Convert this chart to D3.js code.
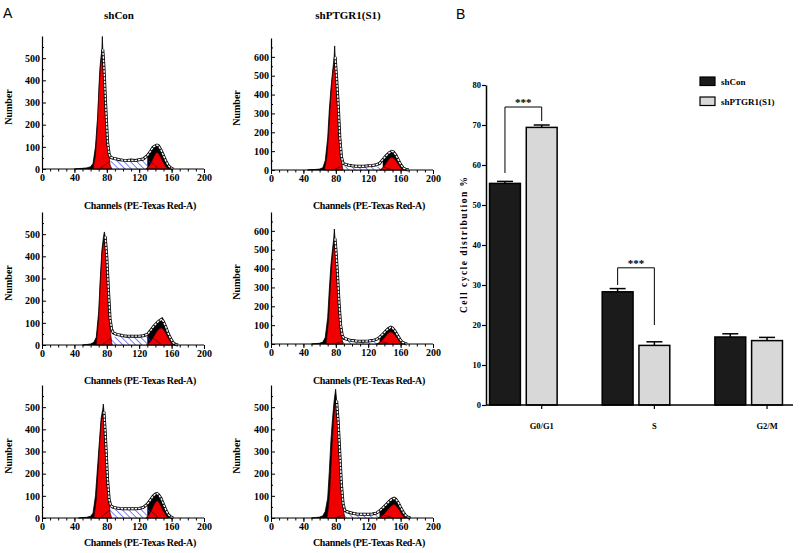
<!DOCTYPE html>
<html><head><meta charset="utf-8">
<script src="https://cdn.jsdelivr.net/npm/d3@7"></script>
<style>
body{margin:0;background:#fff;}
svg{display:block;}
text{font-family:"Liberation Serif","Times New Roman",serif;font-weight:bold;fill:#000;}
</style></head>
<body>
<svg id="c" width="800" height="553"></svg>
<script>
// ---------------- DATA : panel A histograms  [channel, count] ----------------
const hist1Data=[[40,0],[45,2],[50,3],[55,5],[60,10],[63,25],[66,100],[69,250],[71,420],[72,475],[73,510],[74,540],[74.5,598],[75,540],[76,490],[77,420],[79,260],[81,120],[83,65],[85,52],[88,48],[92,45],[96,42],[100,40],[105,38],[110,40],[115,38],[120,42],[125,45],[130,60],[134,80],[137,98],[140,105],[142,108],[144,104],[147,85],[150,60],[153,35],[156,15],[159,5],[162,0]];
const hist1G1=[[63,0],[66,60],[68,170],[70,330],[72,460],[74,508],[74.5,512],[76,470],[78,340],[80,190],[82,80],[84,20],[86,0]];
const hist1G2=[[128,0],[132,12],[135,30],[138,55],[141,73],[142,75],[144,70],[147,50],[150,28],[153,10],[157,0]];
const hist1S=[[71,0],[84,36],[90,38],[110,37],[128,38],[134,35],[144,0]];

const hist2Data=[[45,0],[50,2],[55,3],[60,5],[64,12],[67,50],[70,170],[72,320],[74,430],[76,520],[77,560],[78,600],[78.6,658],[79.2,600],[80,550],[81,490],[83,345],[85,170],[87,70],[89,35],[92,30],[96,25],[100,22],[105,20],[110,20],[115,20],[120,22],[125,24],[130,28],[134,35],[138,55],[142,75],[146,92],[149,99],[151,96],[154,80],[157,55],[160,30],[163,12],[166,4],[170,0]];
const hist2G1=[[66,0],[69,70],[71,180],[73,330],[75,460],[77,540],[78.6,560],[80,530],[82,420],[84,250],[86,100],[88,20],[89,0]];
const hist2G2=[[134,0],[138,12],[141,28],[144,48],[147,63],[149.5,67],[152,62],[155,45],[158,25],[161,8],[164,0]];
const hist2S=[[76,0],[88,20],[95,20],[110,18],[125,18],[138,17],[150,0]];

const hist3Data=[[50,0],[55,2],[60,5],[64,12],[67,35],[70,150],[72,300],[74,430],[76,490],[77,510],[78,490],[80,400],[82,250],[84,120],[86,70],[88,55],[92,48],[96,45],[100,42],[105,40],[110,40],[115,40],[120,40],[125,42],[130,48],[134,65],[138,85],[142,100],[145,110],[148,117],[150,105],[153,80],[156,50],[159,28],[162,10],[165,2],[168,0]];
const hist3G1=[[67,0],[70,120],[72,280],[74,410],[76,465],[77,470],[78,455],[80,360],[82,210],[84,80],[86,10],[87,0]];
const hist3G2=[[129,0],[134,15],[138,38],[142,62],[145,74],[147.5,77],[150,70],[153,52],[156,30],[159,12],[162,0]];
const hist3S=[[74,0],[87,36],[92,38],[110,37],[128,38],[136,35],[148,0]];

const hist4Data=[[50,0],[55,2],[60,4],[64,10],[67,35],[70,140],[72,290],[74,420],[76,505],[77.5,560],[78.2,610],[79,560],[80,510],[82,380],[84,220],[86,100],[88,45],[90,30],[92,28],[96,22],[100,18],[105,16],[110,15],[115,15],[120,16],[125,18],[130,24],[134,35],[138,52],[142,70],[145,82],[148,89],[150,85],[153,70],[156,48],[159,26],[162,10],[165,3],[168,0]];
const hist4G1=[[68,0],[71,120],[73,280],[75,420],[77,510],[78.2,527],[79.5,505],[81,420],[83,280],[85,140],[87,40],[89,0]];
const hist4G2=[[130,0],[135,10],[139,28],[143,50],[146,62],[148,65],[151,58],[154,42],[157,24],[160,8],[163,0]];
const hist4S=[[76,0],[90,16],[100,15],[120,14],[135,14],[148,0]];

const hist5Data=[[45,0],[50,2],[55,3],[60,8],[63,22],[66,100],[69,250],[71,350],[73,450],[75,490],[75.7,514],[76.5,480],[78,390],[79,320],[81,170],[83,80],[85,55],[88,48],[92,45],[96,43],[100,42],[105,42],[110,42],[115,42],[120,43],[125,48],[130,62],[134,82],[137,98],[140,108],[142,111],[144,105],[147,88],[150,62],[153,35],[156,15],[159,5],[162,0]];
const hist5G1=[[64,0],[67,80],[69,200],[71,330],[73,430],[75,464],[76,460],[78,370],[80,220],[82,100],[84,25],[86,0]];
const hist5G2=[[128,0],[132,14],[135,34],[138,58],[141,76],[142,78],[144,73],[147,52],[150,30],[153,12],[156,0]];
const hist5S=[[72,0],[84,38],[88,40],[110,40],[127,40],[133,37],[144,0]];

const hist6Data=[[50,0],[55,2],[60,4],[64,10],[67,30],[70,90],[72,210],[74,350],[76,450],[78,530],[79.8,581],[81,530],[83,430],[85,290],[87,150],[89,65],[91,35],[94,28],[98,24],[102,20],[106,18],[110,17],[115,17],[120,17],[125,18],[130,22],[134,32],[138,45],[142,60],[146,75],[149,84],[152,89],[154,85],[157,70],[160,48],[163,28],[166,12],[169,4],[172,0]];
const hist6G1=[[69,0],[71,50],[73,150],[75,300],[77,430],[79,510],[80,524],[81.5,500],[83,420],[85,290],[87,150],[89,50],[91,0]];
const hist6G2=[[132,0],[137,10],[141,24],[145,42],[149,56],[151.5,62],[154,58],[157,44],[160,26],[163,10],[166,0]];
const hist6S=[[78,0],[92,17],[100,16],[120,15],[138,14],[152,0]];

const histTitles=["shCon","shPTGR1(S1)"];
const xLabel="Channels (PE-Texas Red-A)";
const yLabel="Number";
const xMajorTicks=[0,40,80,120,160,200];
const xMinorTicks=[0,10,20,30,40,50,60,70,80,90,100,110,120,130,140,150,160,170,180,190,200];
const yMajorTicks500=[0,100,200,300,400,500];
const yMajorTicks600=[0,100,200,300,400,500,600];
const yMinorTicks=[50,150,250,350,450,550,650];

// ---------------- DATA : panel B bar chart ----------------
const phases=["G0/G1","S","G2/M"];
const groups=["shCon","shPTGR1(S1)"];
const shConMean=[55.4,28.3,17.0];
const shConErr=[0.5,0.8,0.8];
const shPTGRMean=[69.4,14.9,16.1];
const shPTGRErr=[0.6,0.9,0.8];
const barTicks=[0,10,20,30,40,50,60,70,80];
const barYLabel="Cell cycle distribution %";
const sigPhases=["G0/G1","S"];
const sigLeftBottom=[58,30];
const sigTop=[74.5,34.3];
const sigRightBottom=[71,20];
const sigText="***";

// ---------------- DRAW ----------------
const svg=d3.select("#c");
const defs=svg.append("defs");
const pat=defs.append("pattern").attr("id","hatch").attr("patternUnits","userSpaceOnUse")
  .attr("width",4.5).attr("height",4.5).attr("patternTransform","rotate(-45)");
pat.append("line").attr("x1",0).attr("y1",0).attr("x2",0).attr("y2",4.5)
  .attr("stroke","#3030ff").attr("stroke-width",1.2);

svg.append("text").text("A").attr("x",3).attr("y",18)
  .style("font-family","Liberation Sans, Arial, sans-serif").style("font-weight","normal").style("font-size","14px");
svg.append("text").text("B").attr("x",456).attr("y",19)
  .style("font-family","Liberation Sans, Arial, sans-serif").style("font-weight","normal").style("font-size","14px");

const panels=[
 {d:hist1Data,g1:hist1G1,g2:hist1G2,s:hist1S,x0:42,base:169,top:36,yMax:600,ticks:yMajorTicks500,lab:209,col:0},
 {d:hist2Data,g1:hist2G1,g2:hist2G2,s:hist2S,x0:271,base:170,top:38,yMax:700,ticks:yMajorTicks600,lab:209,col:1},
 {d:hist3Data,g1:hist3G1,g2:hist3G2,s:hist3S,x0:42,base:345,top:212,yMax:600,ticks:yMajorTicks500,lab:384,col:0},
 {d:hist4Data,g1:hist4G1,g2:hist4G2,s:hist4S,x0:271,base:344,top:212,yMax:700,ticks:yMajorTicks600,lab:384,col:1},
 {d:hist5Data,g1:hist5G1,g2:hist5G2,s:hist5S,x0:42,base:518,top:385,yMax:600,ticks:yMajorTicks500,lab:546,col:0},
 {d:hist6Data,g1:hist6G1,g2:hist6G2,s:hist6S,x0:271,base:518,top:385,yMax:600,ticks:yMajorTicks500,lab:546,col:1}
];

panels.forEach((p,i)=>{
  const g=svg.append("g");
  const x=d3.scaleLinear().domain([0,200]).range([p.x0,p.x0+162]);
  const y=d3.scaleLinear().domain([0,p.yMax]).range([p.base,p.top]);
  const area=d3.area().x(d=>x(d[0])).y0(y(0)).y1(d=>y(d[1]));
  const line=d3.line().x(d=>x(d[0])).y(d=>y(d[1]));
  const peakIdx=p.d.reduce((m,d,k)=>d[1]>p.d[m][1]?k:m,0);
  const fit=p.d.slice(peakIdx+1);
  const g1End=p.g1[p.g1.length-1][0], g2Start=p.g2[0][0];
  const gap=p.d.filter(d=>d[0]>=g1End-3&&d[0]<=g2Start+4);
  // data histogram
  g.append("path").attr("d",area(p.d)).attr("fill","#000").attr("stroke","#000").attr("stroke-width",0.8);
  // white gap under fit curve between the peaks
  g.append("path").attr("d",area(gap)).attr("fill","#fff");
  // S phase
  g.append("path").attr("d",area(p.s)).attr("fill","url(#hatch)");
  // red peaks
  const cp=defs.append("clipPath").attr("id","red"+i);
  cp.append("path").attr("d",area(p.g1));
  cp.append("path").attr("d",area(p.g2));
  [p.g1,p.g2].forEach(pk=>{
    g.append("path").attr("d",area(pk)).attr("fill","#f00000").attr("stroke","#300").attr("stroke-width",0.7);
  });
  g.append("path").attr("d",line(p.s)).attr("fill","none").attr("stroke","#6a0000")
    .attr("stroke-width",0.9).attr("clip-path","url(#red"+i+")");
  // fit line (white with black edge + dots)
  g.append("path").attr("d",line(fit)).attr("fill","none").attr("stroke","#000").attr("stroke-width",3);
  g.append("path").attr("d",line(fit)).attr("fill","none").attr("stroke","#fff").attr("stroke-width",1.4)
    .attr("stroke-dasharray","2.5,1");
  // axes
  const xa=g.append("g").attr("transform",`translate(0,${p.base})`)
    .call(d3.axisBottom(x).tickValues(xMajorTicks).tickSize(4).tickPadding(1).tickFormat(d3.format("d")));
  g.append("g").attr("transform",`translate(0,${p.base})`)
    .call(d3.axisBottom(x).tickValues(xMinorTicks).tickSize(2.5).tickFormat("")).select(".domain").remove();
  g.append("g").attr("transform",`translate(${p.x0},0)`)
    .call(d3.axisLeft(y).tickValues(p.ticks).tickSizeInner(-4).tickSizeOuter(0).tickPadding(2).tickFormat(d3.format("d")));
  g.append("g").attr("transform",`translate(${p.x0},0)`)
    .call(d3.axisLeft(y).tickValues(yMinorTicks.filter(v=>v<p.yMax)).tickSizeInner(-2).tickSizeOuter(0).tickFormat("")).select(".domain").remove();
  g.selectAll(".tick text").style("font-family","Liberation Serif, serif").style("font-weight","bold").style("font-size","10px");
  g.selectAll(".domain").attr("stroke","#000").attr("stroke-width",1.2);
  xa.select(".domain").attr("d",`M${x(0)},0H${x(200)}`);
  // labels
  g.append("text").text(xLabel).attr("x",p.x0+98).attr("y",p.lab).attr("text-anchor","middle")
    .style("font-size","10px").style("letter-spacing","-0.3px");
  g.append("text").text(yLabel).attr("transform",`translate(${p.col?240:12},${p.base-62}) rotate(-90)`)
    .attr("text-anchor","middle").style("font-size","10px");
});
svg.append("text").text(histTitles[0]).attr("x",119).attr("y",19).attr("text-anchor","middle").style("font-size","11px");
svg.append("text").text(histTitles[1]).attr("x",348).attr("y",19).attr("text-anchor","middle").style("font-size","11px");

// ---------- panel B ----------
const gb=svg.append("g");
const yB=d3.scaleLinear().domain([0,80]).range([405,85]);
const xB=d3.scaleBand().domain(phases).range([467,805]).paddingInner(0.4).paddingOuter(0.2);
const xS=d3.scaleBand().domain(groups).range([0,xB.bandwidth()]).paddingInner(0.16);
const shift=xS(groups[1])+xS.bandwidth()/2-xB.bandwidth()/2;
const xT=xB.copy().range([467+shift,805+shift]);
const series=[{m:shConMean,e:shConErr,fill:"#1b1b1b"},{m:shPTGRMean,e:shPTGRErr,fill:"#d8d8d8"}];
series.forEach((s,si)=>{
  phases.forEach((ph,k)=>{
    const bx=xB(ph)+xS(groups[si]);
    const bw=xS.bandwidth();
    const cx=bx+bw/2;
    gb.append("line").attr("x1",cx).attr("x2",cx).attr("y1",yB(s.m[k])).attr("y2",yB(s.m[k]+s.e[k]))
      .attr("stroke","#000").attr("stroke-width",1.5);
    gb.append("line").attr("x1",cx-8).attr("x2",cx+8).attr("y1",yB(s.m[k]+s.e[k])).attr("y2",yB(s.m[k]+s.e[k]))
      .attr("stroke","#000").attr("stroke-width",1.5);
    gb.append("rect").attr("x",bx).attr("width",bw).attr("y",yB(s.m[k])).attr("height",yB(0)-yB(s.m[k]))
      .attr("fill",s.fill).attr("stroke","#000").attr("stroke-width",1.5);
  });
});
gb.append("g").attr("transform","translate(486,0)")
  .call(d3.axisLeft(yB).tickValues(barTicks).tickSize(4).tickSizeOuter(0).tickPadding(1).tickFormat(d3.format("d")));
const xAx=gb.append("g").attr("transform","translate(0,405)")
  .call(d3.axisBottom(xT).tickSize(4).tickSizeOuter(0).tickPadding(14));
xAx.select(".domain").remove();
gb.append("line").attr("x1",486).attr("x2",793).attr("y1",yB(0)).attr("y2",yB(0)).attr("stroke","#000").attr("stroke-width",1.5);
gb.selectAll(".domain").attr("stroke","#000").attr("stroke-width",1.5);
gb.selectAll(".tick line").attr("stroke-width",1.2);
gb.selectAll(".tick text").style("font-family","Liberation Serif, serif").style("font-weight","bold").style("font-size","8.5px");
gb.append("text").text(barYLabel).attr("transform","translate(467,245) rotate(-90)").attr("text-anchor","middle")
  .attr("textLength",136).attr("lengthAdjust","spacing").style("font-size","9.5px");
sigPhases.forEach((ph,k)=>{
  const lx=xB(ph)+xS(groups[0])+xS.bandwidth()/2;
  const rx=xB(ph)+xS(groups[1])+xS.bandwidth()/2;
  gb.append("path").attr("d",`M${lx},${yB(sigLeftBottom[k])}V${yB(sigTop[k])}H${rx}V${yB(sigRightBottom[k])}`)
    .attr("fill","none").attr("stroke","#000").attr("stroke-width",1);
  gb.append("text").text(sigText).attr("x",(lx+rx)/2).attr("y",yB(sigTop[k])-1).attr("text-anchor","middle")
    .style("font-size","11px");
});
const lg=gb.append("g");
groups.forEach((gname,i)=>{
  lg.append("rect").attr("x",700).attr("y",77+i*20).attr("width",15).attr("height",8.5)
    .attr("fill",series[i].fill).attr("stroke","#000").attr("stroke-width",1.2);
  lg.append("text").text(gname).attr("x",721).attr("y",85+i*20).style("font-size","9px");
});
</script>
</body></html>
